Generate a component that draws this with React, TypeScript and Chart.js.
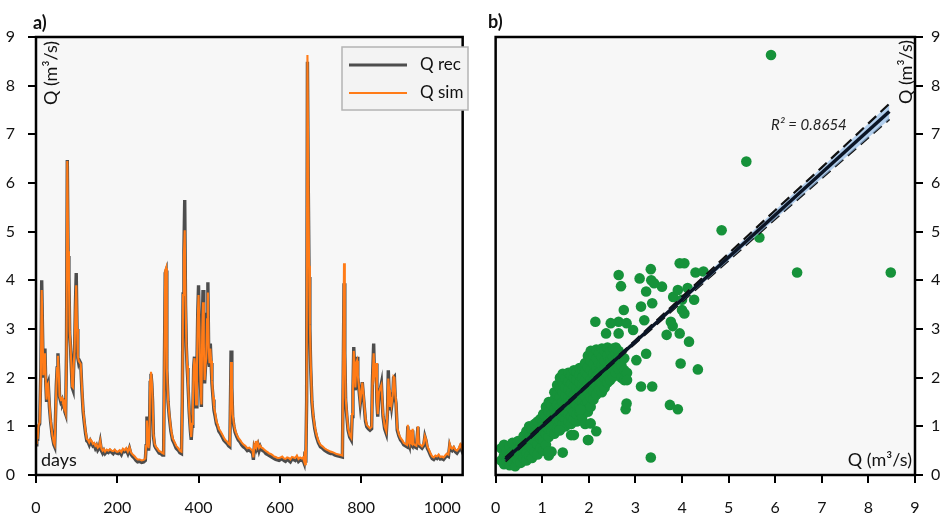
import React, { useEffect, useRef } from 'react';
import { Chart, registerables } from 'chart.js';

Chart.register(...registerables);

const FONT = 'Lato, "Open Sans", "DejaVu Sans", sans-serif';

// ---------- Panel a) : daily discharge, recorded vs simulated ----------
const days = [
  0, 2, 4, 6, 9, 12, 14, 16, 18, 20,
  22, 24, 26, 28, 30, 33, 36, 40, 44, 46,
  48, 50, 52, 54, 56, 58, 61, 64, 66, 69,
  71, 73, 75, 77, 79, 81, 83, 85, 87, 89,
  91, 93, 95, 97, 99, 101, 103, 105, 107, 110,
  113, 116, 119, 122, 125, 128, 131, 134, 137, 140,
  143, 146, 149, 152, 155, 158, 161, 164, 167, 170,
  174, 178, 182, 186, 190, 194, 198, 202, 206, 210,
  214, 218, 222, 226, 230, 234, 238, 242, 246, 250,
  255, 260, 265, 269, 271, 273, 275, 277, 279, 281,
  283, 285, 287, 289, 292, 295, 299, 303, 307, 311,
  314, 316, 318, 320, 322, 325, 328, 332, 336, 340,
  345, 350, 354, 358, 360, 362, 364, 366, 368, 370,
  372, 374, 377, 380, 382, 384, 386, 388, 390, 392,
  394, 396, 398, 400, 402, 404, 406, 407, 409, 411,
  413, 415, 417, 419, 421, 423, 425, 427, 429, 431,
  433, 436, 438, 441, 444, 447, 450, 454, 458, 462,
  466, 470, 474, 477, 479, 480, 482, 484, 487, 490,
  494, 498, 502, 506, 510, 515, 520, 525, 529, 533,
  535, 537, 539, 541, 543, 546, 549, 552, 555, 558,
  562, 566, 570, 574, 578, 582, 586, 590, 594, 598,
  602, 606, 610, 614, 618, 622, 626, 630, 634, 638,
  642, 646, 650, 654, 657, 660, 662, 664, 666, 668,
  670, 672, 674, 676, 679, 682, 686, 690, 695, 700,
  705, 710, 715, 720, 725, 730, 735, 740, 745, 750,
  754, 756, 758, 760, 762, 765, 768, 772, 776, 778,
  780, 782, 784, 786, 788, 790, 792, 795, 798, 801,
  803, 806, 808, 811, 814, 818, 822, 826, 828, 831,
  833, 835, 837, 839, 841, 844, 847, 850, 852, 854,
  858, 862, 865, 867, 869, 871, 873, 875, 878, 880,
  882, 884, 886, 889, 893, 897, 901, 905, 909, 913,
  915, 917, 919, 921, 923, 925, 927, 929, 932, 936,
  940, 942, 946, 950, 954, 957, 960, 963, 967, 971,
  975, 979, 983, 987, 991, 995, 999, 1003, 1007, 1011,
  1015, 1018, 1021, 1024, 1028, 1032, 1036, 1040, 1044, 1047,
  1050,
];

const qRec = [
  0.62, 0.95, 0.7, 1.0, 1.05, 2.2, 4.0, 3.0, 2.0, 2.5,
  2.6, 1.9, 1.5, 1.85, 1.9, 1.4, 1.1, 0.8, 0.62, 0.58,
  1.2, 1.85, 2.2, 2.5, 2.1, 1.6, 1.5, 1.55, 1.45, 1.5,
  1.3, 1.25, 2.5, 6.47, 4.5, 4.07, 2.9, 2.63, 2.2, 1.8,
  1.75, 2.3, 2.6, 3.5, 4.15, 3.0, 2.4, 2.3, 2.35, 2.3,
  1.74, 1.3, 1.06, 0.85, 0.7, 0.68, 0.62, 0.7, 0.65, 0.6,
  0.62, 0.55, 0.6, 0.51, 0.55, 0.68, 0.5, 0.45, 0.5, 0.44,
  0.48, 0.46, 0.5, 0.47, 0.44, 0.49, 0.45, 0.44, 0.47, 0.42,
  0.5, 0.48, 0.52, 0.44, 0.55, 0.42, 0.38, 0.35, 0.3, 0.27,
  0.28, 0.26, 0.27, 0.3, 0.6, 1.2, 0.8, 0.5, 0.7, 1.9,
  2.08, 1.88, 1.5, 0.8, 0.6, 0.55, 0.5, 0.45, 0.44, 0.41,
  0.41, 2.3, 4.15, 4.2, 2.15, 1.5, 1.2, 0.9, 0.72, 0.65,
  0.55, 0.51, 0.46, 0.44, 1.5, 3.72, 4.6, 5.65, 3.5, 2.63,
  2.2, 1.88, 1.3, 0.9, 0.72, 1.0, 1.33, 2.2, 2.43, 2.1,
  1.4, 2.2, 3.3, 3.9, 3.0, 2.0, 1.6, 1.4, 3.0, 3.8,
  2.6, 1.88, 2.2, 2.36, 3.3, 3.96, 2.5, 2.22, 2.7, 2.3,
  1.88, 1.55, 1.33, 1.2, 1.05, 0.99, 0.9, 0.85, 0.79, 0.72,
  0.68, 0.65, 0.6, 0.58, 1.8, 2.56, 1.8, 1.2, 1.0, 0.88,
  0.79, 0.72, 0.68, 0.62, 0.58, 0.55, 0.5, 0.52, 0.48, 0.45,
  0.31, 0.55, 0.5, 0.65, 0.55, 0.62, 0.5, 0.58, 0.52, 0.5,
  0.48, 0.44, 0.42, 0.4, 0.38, 0.36, 0.34, 0.32, 0.31, 0.3,
  0.32, 0.34, 0.3, 0.28, 0.32, 0.3, 0.27, 0.33, 0.32, 0.3,
  0.35, 0.28, 0.31, 0.3, 0.31, 0.24, 0.48, 0.25, 1.5, 8.49,
  6.0, 4.07, 3.0, 2.22, 1.5, 1.2, 0.95, 0.79, 0.66, 0.58,
  0.55, 0.51, 0.48, 0.46, 0.44, 0.44, 0.41, 0.4, 0.39, 0.38,
  0.37, 2.0, 3.94, 2.5, 1.54, 1.2, 0.92, 0.78, 0.72, 1.2,
  1.74, 2.63, 2.2, 1.74, 2.3, 2.43, 2.0, 1.74, 1.47, 1.7,
  1.91, 1.6, 1.4, 1.1, 0.99, 0.95, 0.92, 0.95, 1.95, 2.7,
  2.0, 2.1, 2.29, 1.5, 1.2, 1.67, 1.75, 1.88, 1.5, 1.2,
  0.95, 0.85, 1.3, 2.15, 1.7, 1.33, 1.54, 1.4, 1.6, 2.0,
  2.02, 1.6, 1.47, 0.92, 0.8, 0.72, 0.68, 0.62, 0.6, 0.58,
  1.0, 0.65, 0.6, 0.9, 0.62, 0.6, 0.92, 0.6, 0.58, 0.56,
  0.99, 0.6, 0.58, 0.55, 0.6, 0.79, 0.7, 0.55, 0.48, 0.4,
  0.34, 0.32, 0.36, 0.34, 0.38, 0.33, 0.34, 0.32, 0.36, 0.4,
  0.38, 0.6, 0.52, 0.5, 0.55, 0.48, 0.45, 0.5, 0.58, 0.52,
  0.62,
];

const qSim = [
  0.66, 0.98, 0.74, 1.02, 1.08, 2.1, 3.8, 3.0, 2.05, 2.45,
  2.5, 1.95, 1.55, 1.85, 1.88, 1.45, 1.12, 0.83, 0.66, 0.62,
  1.15, 1.8, 2.2, 2.45, 2.1, 1.62, 1.55, 1.58, 1.5, 1.52,
  1.35, 1.28, 2.4, 6.45, 4.6, 4.0, 2.95, 2.65, 2.25, 1.82,
  1.8, 2.3, 2.55, 3.4, 3.9, 3.0, 2.45, 2.35, 2.32, 2.28,
  1.8, 1.35, 1.1, 0.9, 0.74, 0.72, 0.67, 0.73, 0.7, 0.64,
  0.66, 0.6, 0.63, 0.56, 0.58, 0.7, 0.54, 0.5, 0.53, 0.48,
  0.52, 0.5, 0.53, 0.5, 0.49, 0.52, 0.48, 0.48, 0.51, 0.47,
  0.54, 0.51, 0.55, 0.48, 0.57, 0.46, 0.42, 0.39, 0.35, 0.32,
  0.32, 0.3, 0.31, 0.34, 0.6, 1.12, 0.82, 0.55, 0.75, 1.95,
  2.12, 1.92, 1.52, 0.85, 0.64, 0.58, 0.54, 0.49, 0.48, 0.45,
  0.44, 2.3, 4.2, 4.25, 2.2, 1.55, 1.25, 0.95, 0.76, 0.69,
  0.6, 0.55, 0.5, 0.48, 1.5, 3.7, 4.5, 5.03, 3.6, 2.7,
  2.25, 1.92, 1.35, 0.95, 0.78, 1.05, 1.4, 2.2, 2.4, 2.15,
  1.45, 2.2, 3.2, 3.7, 3.05, 2.1, 1.65, 1.45, 2.9, 3.55,
  2.7, 1.95, 2.25, 2.4, 3.2, 3.75, 2.6, 2.3, 2.6, 2.35,
  1.95, 1.6, 1.4, 1.26, 1.1, 1.04, 0.95, 0.9, 0.84, 0.77,
  0.72, 0.69, 0.64, 0.62, 1.7, 2.32, 1.8, 1.25, 1.05, 0.92,
  0.83, 0.76, 0.72, 0.67, 0.63, 0.6, 0.55, 0.56, 0.53, 0.5,
  0.36, 0.6, 0.55, 0.7, 0.58, 0.66, 0.56, 0.6, 0.56, 0.55,
  0.52, 0.49, 0.47, 0.44, 0.43, 0.41, 0.38, 0.37, 0.35, 0.35,
  0.36, 0.38, 0.34, 0.33, 0.36, 0.35, 0.32, 0.37, 0.36, 0.35,
  0.4, 0.33, 0.36, 0.34, 0.36, 0.28, 0.5, 0.2, 1.6, 8.63,
  6.2, 4.3, 3.1, 2.3, 1.55, 1.25, 1.0, 0.84, 0.7, 0.62,
  0.59, 0.55, 0.52, 0.5, 0.48, 0.47, 0.45, 0.43, 0.42, 0.41,
  0.4, 2.2, 4.35, 2.6, 1.6, 1.25, 0.96, 0.82, 0.76, 1.25,
  1.78, 2.55, 2.25, 1.8, 2.3, 2.35, 2.05, 1.8, 1.52, 1.72,
  1.9, 1.65, 1.45, 1.15, 1.03, 0.99, 0.96, 0.99, 1.9, 2.5,
  2.05, 2.15, 2.3, 1.55, 1.25, 1.7, 1.78, 1.85, 1.55, 1.25,
  1.0, 0.9, 1.3, 1.98, 1.75, 1.4, 1.6, 1.45, 1.65, 2.02,
  2.0, 1.65, 1.52, 0.97, 0.84, 0.76, 0.72, 0.66, 0.64, 0.62,
  1.03, 0.69, 0.64, 0.93, 0.66, 0.64, 0.95, 0.64, 0.62, 0.6,
  1.0, 0.64, 0.62, 0.59, 0.64, 0.8, 0.73, 0.59, 0.52, 0.44,
  0.38, 0.36, 0.4, 0.38, 0.42, 0.37, 0.38, 0.36, 0.4, 0.44,
  0.42, 0.64, 0.56, 0.54, 0.58, 0.52, 0.5, 0.54, 0.62, 0.56,
  0.66,
];

const dayTicks = [0, 200, 400, 600, 800, 1000];

// ---------- Panel b) : scatter Q rec vs Q sim ----------
const scatterPoints: [number, number][] = [
  [0.12, 0.3], [0.12, 0.55],
  [0.18, 0.22], [0.18, 0.4], [0.18, 0.62],
  [0.24, 0.3], [0.24, 0.5],
  [0.3, 0.2], [0.3, 0.38], [0.3, 0.6],
  [0.36, 0.28], [0.36, 0.48], [0.36, 0.66],
  [0.42, 0.18], [0.42, 0.36], [0.42, 0.55],
  [0.48, 0.3], [0.48, 0.45], [0.48, 0.7],
  [0.54, 0.25], [0.54, 0.5], [0.54, 0.62],
  [0.6, 0.35], [0.6, 0.55], [0.6, 0.8],
  [0.66, 0.3], [0.66, 0.45], [0.66, 0.68], [0.66, 0.9],
  [0.72, 0.4], [0.72, 0.6], [0.72, 0.78], [0.72, 1.0],
  [0.78, 0.35], [0.78, 0.55], [0.78, 0.75], [0.78, 0.95],
  [0.84, 0.48], [0.84, 0.7], [0.84, 0.88], [0.84, 1.05],
  [0.9, 0.42], [0.9, 0.62], [0.9, 0.85], [0.9, 1.1],
  [0.96, 0.55], [0.96, 0.75], [0.96, 0.95], [0.96, 1.15],
  [1.02, 0.5], [1.02, 0.72], [1.02, 0.9], [1.02, 1.1], [1.02, 1.25],
  [1.08, 0.62], [1.08, 0.85], [1.08, 1.0], [1.08, 1.2], [1.08, 1.4],
  [1.14, 0.4], [1.14, 0.78], [1.14, 0.95], [1.14, 1.12], [1.14, 1.3], [1.14, 1.5],
  [1.2, 0.48], [1.2, 0.9], [1.2, 1.05], [1.2, 1.25], [1.2, 1.45],
  [1.26, 0.85], [1.26, 1.0], [1.26, 1.18], [1.26, 1.35], [1.26, 1.55], [1.26, 1.7],
  [1.32, 0.95], [1.32, 1.12], [1.32, 1.3], [1.32, 1.45], [1.32, 1.65], [1.32, 1.85],
  [1.38, 0.92], [1.38, 1.1], [1.38, 1.25], [1.38, 1.4], [1.38, 1.6], [1.38, 1.78], [1.38, 2.0],
  [1.44, 0.46], [1.44, 1.05], [1.44, 1.2], [1.44, 1.35], [1.44, 1.5], [1.44, 1.7], [1.44, 1.9], [1.44, 2.08],
  [1.5, 1.0], [1.5, 1.15], [1.5, 1.3], [1.5, 1.48], [1.5, 1.62], [1.5, 1.8], [1.5, 1.98],
  [1.56, 1.1], [1.56, 1.25], [1.56, 1.42], [1.56, 1.58], [1.56, 1.75], [1.56, 1.92], [1.56, 2.1],
  [1.62, 0.82], [1.62, 1.05], [1.62, 1.2], [1.62, 1.38], [1.62, 1.55], [1.62, 1.7], [1.62, 1.88], [1.62, 2.05],
  [1.68, 0.82], [1.68, 1.15], [1.68, 1.3], [1.68, 1.5], [1.68, 1.65], [1.68, 1.82], [1.68, 2.0], [1.68, 2.15],
  [1.74, 1.1], [1.74, 1.25], [1.74, 1.45], [1.74, 1.6], [1.74, 1.78], [1.74, 1.95], [1.74, 2.12],
  [1.8, 1.3], [1.8, 1.4], [1.8, 1.55], [1.8, 1.72], [1.8, 1.9], [1.8, 2.05], [1.8, 2.2],
  [1.86, 1.2], [1.86, 1.38], [1.86, 1.52], [1.86, 1.68], [1.86, 1.85], [1.86, 2.0], [1.86, 2.18],
  [1.92, 1.05], [1.92, 1.45], [1.92, 1.62], [1.92, 1.8], [1.92, 1.95], [1.92, 2.12], [1.92, 2.3],
  [1.98, 0.72], [1.98, 1.3], [1.98, 1.5], [1.98, 1.7], [1.98, 1.88], [1.98, 2.05], [1.98, 2.22], [1.98, 2.45],
  [2.04, 1.06], [2.04, 1.4], [2.04, 1.6], [2.04, 1.78], [2.04, 1.95], [2.04, 2.15], [2.04, 2.35], [2.04, 2.55],
  [2.1, 1.55], [2.1, 1.72], [2.1, 1.9], [2.1, 2.08], [2.1, 2.28], [2.1, 2.45],
  [2.16, 0.9], [2.16, 1.65], [2.16, 1.85], [2.16, 2.02], [2.16, 2.2], [2.16, 2.4], [2.16, 2.58],
  [2.22, 1.75], [2.22, 1.92], [2.22, 2.1], [2.22, 2.3], [2.22, 2.5],
  [2.28, 1.7], [2.28, 1.88], [2.28, 2.05], [2.28, 2.25], [2.28, 2.42], [2.28, 2.6],
  [2.34, 1.8], [2.34, 2.0], [2.34, 2.18], [2.34, 2.35], [2.34, 2.55],
  [2.4, 1.9], [2.4, 2.08], [2.4, 2.28], [2.4, 2.45], [2.4, 2.62],
  [2.46, 1.95], [2.46, 2.15], [2.46, 2.35], [2.46, 2.55],
  [2.52, 2.02], [2.52, 2.2], [2.52, 2.42], [2.52, 2.6],
  [2.58, 2.1], [2.58, 2.3], [2.58, 2.5], [2.58, 2.62],
  [2.64, 2.18], [2.64, 2.4], [2.64, 2.55],
  [2.7, 2.0], [2.7, 2.25], [2.7, 2.45],
  [2.76, 1.95], [2.76, 2.15], [2.76, 2.4],
  [2.82, 2.1], [2.82, 1.95],
  [1.13, 0.48], [1.37, 0.92], [1.82, 1.34], [1.99, 0.72],
  // outliers
  [2.64, 4.11], [2.69, 3.88], [3.09, 4.04], [3.33, 4.23], [3.34, 4.0], [3.4, 3.94],
  [3.23, 3.77], [3.57, 3.87], [3.36, 3.53], [2.75, 3.39], [3.12, 3.46], [2.14, 3.15],
  [2.64, 3.15], [2.47, 3.12], [2.81, 3.12], [3.19, 3.18], [2.37, 2.91], [2.95, 2.98],
  [2.64, 2.91], [3.23, 2.49], [3.02, 2.36], [3.12, 1.82], [3.36, 1.82], [2.79, 1.35],
  [3.33, 0.36], [3.74, 1.44], [3.91, 1.35], [3.97, 2.29], [4.34, 2.17], [4.15, 2.74],
  [3.95, 2.91], [3.67, 2.88], [3.76, 3.15], [3.8, 3.06], [4.05, 3.32], [4.0, 3.39],
  [3.95, 4.35], [4.05, 4.35], [4.29, 4.16], [4.46, 4.18], [3.81, 3.66], [3.91, 3.8],
  [4.12, 3.84], [4.26, 3.6], [4.0, 3.6], [2.81, 1.47],
  [6.47, 4.16], [8.48, 4.16], [5.91, 8.63], [5.38, 6.44], [4.85, 5.03], [5.66, 4.88],
];

// regression line and its confidence bounds
const fitX = [0.21, 8.45];
const fitY = [0.32, 7.47];
const bandX = [0.21, 1, 2, 3, 4, 5, 6, 7, 8.45];
const bandUpper = [0.36, 1.04, 1.89, 2.77, 3.66, 4.55, 5.44, 6.32, 7.63];
const bandLower = [0.28, 0.98, 1.85, 2.71, 3.56, 4.41, 5.26, 6.1, 7.31];
const unitTicks = [0, 1, 2, 3, 4, 5, 6, 7, 8, 9];
const r2Label = 'R² = 0.8654';

const COLOR_REC = '#4d4d4d';
const COLOR_SIM = '#ff7b17';
const COLOR_PTS = '#16923a';
const PLOT_BG = '#f7f7f7';

const framePlugin = {
  id: 'frame',
  beforeDraw(chart: any) {
    const { ctx, chartArea: a } = chart;
    ctx.save();
    ctx.fillStyle = PLOT_BG;
    ctx.fillRect(a.left, a.top, a.right - a.left, a.bottom - a.top);
    ctx.restore();
  },
  afterDraw(chart: any) {
    const { ctx, chartArea: a } = chart;
    ctx.save();
    ctx.strokeStyle = '#000';
    ctx.lineWidth = 2.5;
    ctx.strokeRect(a.left, a.top, a.right - a.left, a.bottom - a.top);
    ctx.restore();
  },
};

const tickFont = { family: FONT, size: 16 };

function axisGrid() {
  return {
    display: true,
    drawOnChartArea: false,
    drawTicks: true,
    tickLength: 8,
    color: '#000',
    lineWidth: 2,
  };
}

const plainLabel = (v: any) => String(v);

export default function App() {
  const refA = useRef<HTMLCanvasElement>(null);
  const refB = useRef<HTMLCanvasElement>(null);

  useEffect(() => {
    const textA = {
      id: 'textA',
      afterDraw(chart: any) {
        const ctx = chart.ctx;
        ctx.save();
        ctx.fillStyle = '#111';
        ctx.font = `bold 18px ${FONT}`;
        ctx.textAlign = 'left';
        ctx.textBaseline = 'alphabetic';
        ctx.fillText('a)', 33, 29);
        ctx.font = `18px ${FONT}`;
        ctx.fillText('days', 41, 466);
        ctx.save();
        ctx.translate(57, 73);
        ctx.rotate(-Math.PI / 2);
        ctx.textAlign = 'center';
        ctx.fillText('Q (m³/s)', 0, 0);
        ctx.restore();
        // legend
        ctx.fillStyle = '#f3f3f3';
        ctx.fillRect(342, 47, 126, 63);
        ctx.strokeStyle = '#b4b4b4';
        ctx.lineWidth = 1.5;
        ctx.strokeRect(342, 47, 126, 63);
        ctx.lineCap = 'butt';
        ctx.strokeStyle = COLOR_REC;
        ctx.lineWidth = 3;
        ctx.beginPath();
        ctx.moveTo(349, 65);
        ctx.lineTo(407, 65);
        ctx.stroke();
        ctx.strokeStyle = COLOR_SIM;
        ctx.lineWidth = 1.8;
        ctx.beginPath();
        ctx.moveTo(349, 93);
        ctx.lineTo(407, 93);
        ctx.stroke();
        ctx.fillStyle = '#111';
        ctx.font = `17px ${FONT}`;
        ctx.textBaseline = 'middle';
        ctx.textAlign = 'left';
        ctx.fillText(chart.data.datasets[0].label, 420, 65);
        ctx.fillText(chart.data.datasets[1].label, 420, 93);
        ctx.restore();
      },
    };

    const textB = {
      id: 'textB',
      afterDraw(chart: any) {
        const ctx = chart.ctx;
        ctx.save();
        ctx.fillStyle = '#111';
        ctx.font = `bold 18px ${FONT}`;
        ctx.textAlign = 'left';
        ctx.textBaseline = 'alphabetic';
        ctx.fillText('b)', 12, 28);
        ctx.font = `18px ${FONT}`;
        ctx.textAlign = 'right';
        ctx.fillText('Q (m³/s)', 436, 466);
        ctx.save();
        ctx.translate(436, 72);
        ctx.rotate(-Math.PI / 2);
        ctx.textAlign = 'center';
        ctx.fillText('Q (m³/s)', 0, 0);
        ctx.restore();
        ctx.font = `italic 15px ${FONT}`;
        ctx.textAlign = 'left';
        ctx.textBaseline = 'middle';
        ctx.fillStyle = '#222';
        ctx.fillText(r2Label, 295, 125);
        ctx.restore();
      },
    };

    const chartA = new Chart(refA.current!, {
      type: 'line',
      data: {
        datasets: [
          {
            label: 'Q rec',
            data: days.map((d, i) => ({ x: d, y: qRec[i] })),
            borderColor: COLOR_REC,
            borderWidth: 3.4,
            pointRadius: 0,
            tension: 0,
            order: 2,
          },
          {
            label: 'Q sim',
            data: days.map((d, i) => ({ x: d, y: qSim[i] })),
            borderColor: COLOR_SIM,
            borderWidth: 2.1,
            pointRadius: 0,
            tension: 0,
            order: 1,
          },
        ],
      },
      options: {
        responsive: false,
        animation: false,
        events: [],
        layout: { padding: { top: 37, left: 0, right: 2, bottom: 0 } },
        plugins: { legend: { display: false }, tooltip: { enabled: false } },
        scales: {
          x: {
            type: 'linear',
            min: 0,
            max: 1050,
            afterBuildTicks: (scale: any) => {
              scale.ticks = dayTicks.map((v) => ({ value: v }));
            },
            afterFit: (scale: any) => {
              scale.height = 39;
            },
            ticks: { color: '#111', font: tickFont, padding: 15, maxRotation: 0, autoSkip: false, callback: plainLabel },
            grid: axisGrid(),
            border: { display: false },
          },
          y: {
            min: 0,
            max: 9,
            afterBuildTicks: (scale: any) => {
              scale.ticks = unitTicks.map((v) => ({ value: v }));
            },
            afterFit: (scale: any) => {
              scale.width = 36;
            },
            ticks: { color: '#111', font: tickFont, padding: 13, callback: plainLabel },
            grid: axisGrid(),
            border: { display: false },
          },
        },
      },
      plugins: [framePlugin, textA],
    } as any);

    const chartB = new Chart(refB.current!, {
      type: 'scatter',
      data: {
        datasets: [
          {
            type: 'line',
            label: 'upper',
            data: bandX.map((x, i) => ({ x, y: bandUpper[i] })),
            borderColor: '#111',
            borderWidth: 2.2,
            borderDash: [11, 6],
            backgroundColor: 'rgba(150,190,232,0.7)',
            fill: '+1',
            pointRadius: 0,
            showLine: true,
            order: 2,
          },
          {
            type: 'line',
            label: 'lower',
            data: bandX.map((x, i) => ({ x, y: bandLower[i] })),
            borderColor: '#111',
            borderWidth: 2.2,
            borderDash: [11, 6],
            fill: false,
            pointRadius: 0,
            showLine: true,
            order: 2,
          },
          {
            type: 'line',
            label: 'fit',
            data: fitX.map((x, i) => ({ x, y: fitY[i] })),
            borderColor: '#0b1526',
            borderWidth: 3.5,
            fill: false,
            pointRadius: 0,
            showLine: true,
            order: 1,
          },
          {
            label: 'Q',
            data: scatterPoints.map(([x, y]) => ({ x, y })),
            backgroundColor: COLOR_PTS,
            borderWidth: 0,
            pointRadius: 5.3,
            order: 5,
          },
        ],
      },
      options: {
        responsive: false,
        animation: false,
        events: [],
        layout: { padding: { top: 37, left: 2, right: 0, bottom: 0 } },
        plugins: { legend: { display: false }, tooltip: { enabled: false } },
        scales: {
          x: {
            type: 'linear',
            min: 0,
            max: 9,
            afterBuildTicks: (scale: any) => {
              scale.ticks = unitTicks.map((v) => ({ value: v }));
            },
            afterFit: (scale: any) => {
              scale.height = 39;
            },
            ticks: { color: '#111', font: tickFont, padding: 15, maxRotation: 0, autoSkip: false, callback: plainLabel },
            grid: axisGrid(),
            border: { display: false },
          },
          y: {
            position: 'right',
            min: 0,
            max: 9,
            afterBuildTicks: (scale: any) => {
              scale.ticks = unitTicks.map((v) => ({ value: v }));
            },
            afterFit: (scale: any) => {
              scale.width = 32;
            },
            ticks: { color: '#111', font: tickFont, padding: 8, callback: plainLabel },
            grid: axisGrid(),
            border: { display: false },
          },
        },
      },
      plugins: [framePlugin, textB],
    } as any);

    return () => {
      chartA.destroy();
      chartB.destroy();
    };
  }, []);

  return (
    <div style={{ position: 'fixed', left: 0, top: 0, width: 947, height: 514, background: '#fff' }}>
      <canvas
        ref={refA}
        width={476}
        height={514}
        style={{ position: 'absolute', left: 0, top: 0, width: 476, height: 514 }}
      />
      <canvas
        ref={refB}
        width={471}
        height={514}
        style={{ position: 'absolute', left: 476, top: 0, width: 471, height: 514 }}
      />
    </div>
  );
}
